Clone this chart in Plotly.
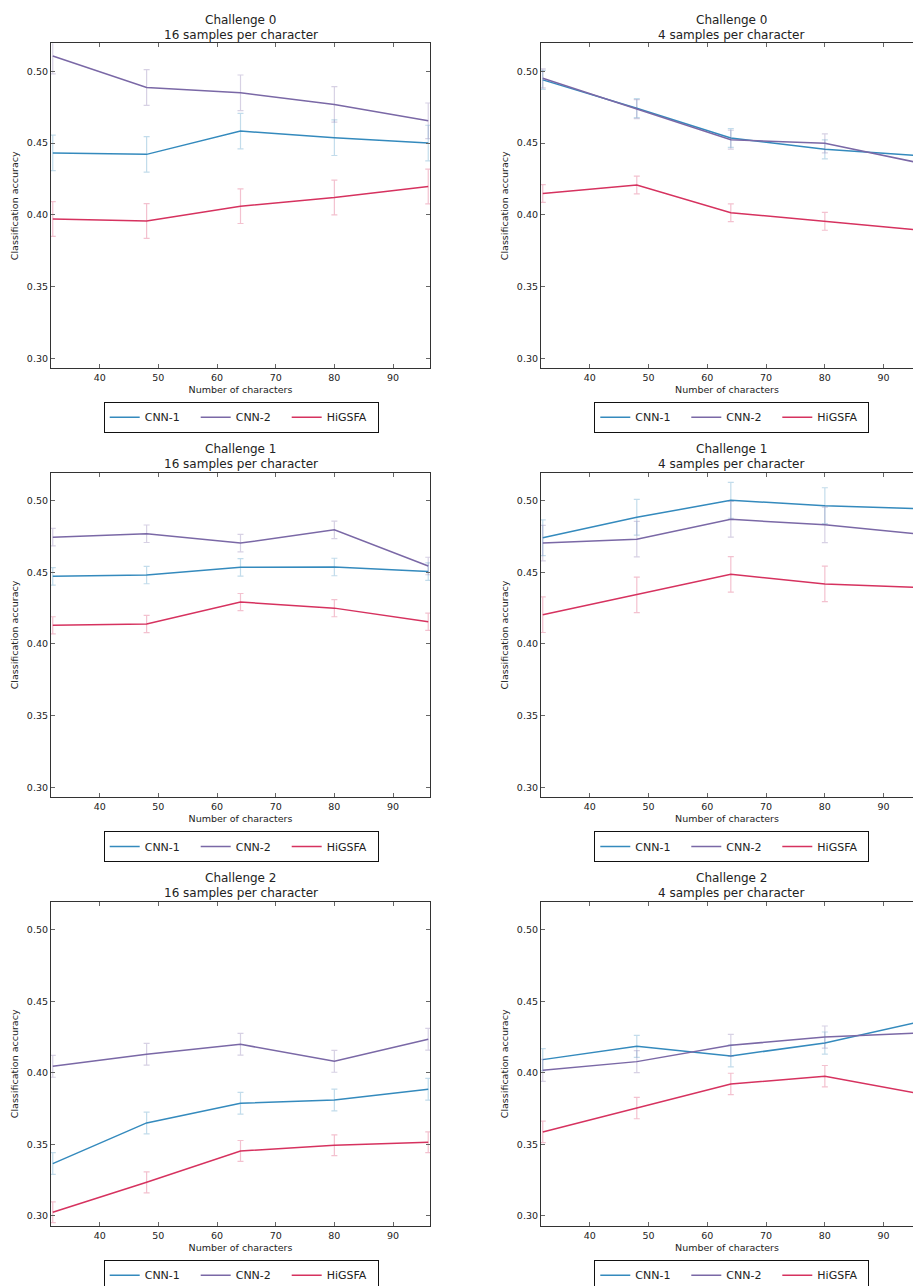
import plotly.graph_objects as go

W, H = 913, 1286

x_chars = [32, 48, 64, 80, 96]
methods = ["CNN-1", "CNN-2", "HiGSFA"]
titles_challenge = ["Challenge 0", "Challenge 0", "Challenge 1", "Challenge 1", "Challenge 2", "Challenge 2"]
titles_samples = ["16 samples per character", "4 samples per character"] * 3

c0_16_cnn1 = [0.4431, 0.4421, 0.4583, 0.4537, 0.4500]
c0_16_cnn2 = [0.5106, 0.4887, 0.4850, 0.4769, 0.4655]
c0_16_higsfa = [0.3970, 0.3956, 0.4060, 0.4120, 0.4197]
err_c0_16 = [0.0124, 0.0124, 0.0121]

c0_4_cnn1 = [0.4940, 0.4743, 0.4535, 0.4456, 0.4412]
c0_4_cnn2 = [0.4951, 0.4736, 0.4523, 0.4498, 0.4362]
c0_4_higsfa = [0.4148, 0.4208, 0.4014, 0.3954, 0.3894]
err_c0_4 = [0.0066, 0.0066, 0.0062]

c1_16_cnn1 = [0.4472, 0.4481, 0.4535, 0.4537, 0.4505]
c1_16_cnn2 = [0.4745, 0.4769, 0.4704, 0.4796, 0.4544]
c1_16_higsfa = [0.4130, 0.4139, 0.4292, 0.4250, 0.4155]
err_c1_16 = [0.0061, 0.0061, 0.0060]

c1_4_cnn1 = [0.4741, 0.4884, 0.5002, 0.4965, 0.4943]
c1_4_cnn2 = [0.4704, 0.4731, 0.4870, 0.4831, 0.4767]
c1_4_higsfa = [0.4204, 0.4343, 0.4486, 0.4419, 0.4395]
err_c1_4 = [0.0125, 0.0124, 0.0124]

c2_16_cnn1 = [0.3366, 0.3650, 0.3787, 0.3810, 0.3885]
c2_16_cnn2 = [0.4045, 0.4129, 0.4199, 0.4080, 0.4234]
c2_16_higsfa = [0.3026, 0.3235, 0.3454, 0.3494, 0.3515]
err_c2_16 = [0.0076, 0.0076, 0.0073]

c2_4_cnn1 = [0.4092, 0.4185, 0.4118, 0.4208, 0.4355]
c2_4_cnn2 = [0.4017, 0.4078, 0.4192, 0.4250, 0.4278]
c2_4_higsfa = [0.3587, 0.3754, 0.3922, 0.3976, 0.3854]
err_c2_4 = [0.0077, 0.0077, 0.0075]

panels = [
    ([c0_16_cnn1, c0_16_cnn2, c0_16_higsfa], err_c0_16),
    ([c0_4_cnn1, c0_4_cnn2, c0_4_higsfa], err_c0_4),
    ([c1_16_cnn1, c1_16_cnn2, c1_16_higsfa], err_c1_16),
    ([c1_4_cnn1, c1_4_cnn2, c1_4_higsfa], err_c1_4),
    ([c2_16_cnn1, c2_16_cnn2, c2_16_higsfa], err_c2_16),
    ([c2_4_cnn1, c2_4_cnn2, c2_4_higsfa], err_c2_4),
]

colors = ["#348ABD", "#7A68A6", "#D6325F"]
err_colors = ["rgba(52,138,189,0.3)", "rgba(122,104,166,0.3)", "rgba(214,50,95,0.3)"]

FONT = "DejaVu Sans"
TXT = "#222222"

# pixel geometry
rows_px = [(43.3, 368.3), (472.7, 797.3), (901.7, 1226.0)]
cols_px = [(51.0, 430.0), (541.0, 913.0)]
xranges = [[31.7, 96.3], [31.7, 95.0]]
yrange = [0.2930, 0.5195]
title1_y = [20.0, 449.3, 878.3]
title2_y = [34.7, 463.7, 892.7]
legend_mid = [417.2, 846.5, 1275.2]

fig = go.Figure()
layout = dict(
    width=W, height=H,
    margin=dict(l=0, r=0, t=0, b=0, autoexpand=False),
    paper_bgcolor="white", plot_bgcolor="white",
    font=dict(family=FONT, color=TXT, size=10),
    annotations=[],
)

for p, (series, errs) in enumerate(panels):
    r, c = divmod(p, 2)
    idx = p + 1
    xa = "x" if idx == 1 else f"x{idx}"
    ya = "y" if idx == 1 else f"y{idx}"
    leg = "legend" if idx == 1 else f"legend{idx}"
    for k, (name, vals) in enumerate(zip(methods, series)):
        fig.add_trace(go.Scatter(
            x=x_chars, y=vals, name=name, mode="lines",
            line=dict(color=colors[k], width=1.5),
            error_y=dict(type="constant", value=errs[k], color=err_colors[k],
                         thickness=1.2, width=3),
            xaxis=xa, yaxis=ya, legend=leg, showlegend=True,
        ))
    x0, x1 = cols_px[c]
    y0, y1 = rows_px[r]
    xkey = "xaxis" if idx == 1 else f"xaxis{idx}"
    ykey = "yaxis" if idx == 1 else f"yaxis{idx}"
    layout[xkey] = dict(
        domain=[x0 / W, x1 / W], anchor=ya, range=xranges[c], automargin=False,
        tickvals=[40, 50, 60, 70, 80, 90], ticks="inside", ticklen=4,
        tickcolor="#666", showline=True, linecolor="#333", linewidth=1.2,
        mirror="ticks", showgrid=False, zeroline=False,
        tickfont=dict(size=9.5, family=FONT, color=TXT),
        title=dict(text="Number of characters", font=dict(size=9.5, family=FONT, color=TXT), standoff=4),
    )
    layout[ykey] = dict(
        domain=[1 - y1 / H, 1 - y0 / H], anchor=xa, range=yrange, automargin=False,
        tickvals=[0.30, 0.35, 0.40, 0.45, 0.50], tickformat=".2f",
        ticks="inside", ticklen=4, tickcolor="#666",
        showline=True, linecolor="#333", linewidth=1.2,
        mirror="ticks" if c == 0 else False, showgrid=False, zeroline=False,
        tickfont=dict(size=9.5, family=FONT, color=TXT),
        title=dict(text="Classification accuracy", font=dict(size=9.5, family=FONT, color=TXT), standoff=6),
    )
    xc = ((x0 + x1) / 2 if c == 0 else 731.0) / W
    layout["annotations"].append(dict(
        text=titles_challenge[p], xref="paper", yref="paper", x=xc, y=1 - title1_y[r] / H,
        xanchor="center", yanchor="middle", showarrow=False,
        font=dict(size=12, family=FONT, color=TXT)))
    layout["annotations"].append(dict(
        text=titles_samples[p], xref="paper", yref="paper", x=xc, y=1 - title2_y[r] / H,
        xanchor="center", yanchor="middle", showarrow=False,
        font=dict(size=12, family=FONT, color=TXT)))
    lx = (241.2 if c == 0 else 731.8) / W
    layout[leg] = dict(
        orientation="h", x=lx, xanchor="center", y=1 - legend_mid[r] / H, yanchor="middle",
        bordercolor="#111", borderwidth=1, bgcolor="white",
        font=dict(size=11, family=FONT, color=TXT),
        entrywidth=46, entrywidthmode="pixels", itemwidth=30,
    )

fig.update_layout(**layout)
fig.write_html("out.html", config={"displayModeBar": False},
               post_script="document.body.style.margin='0';document.body.style.overflow='hidden';")
